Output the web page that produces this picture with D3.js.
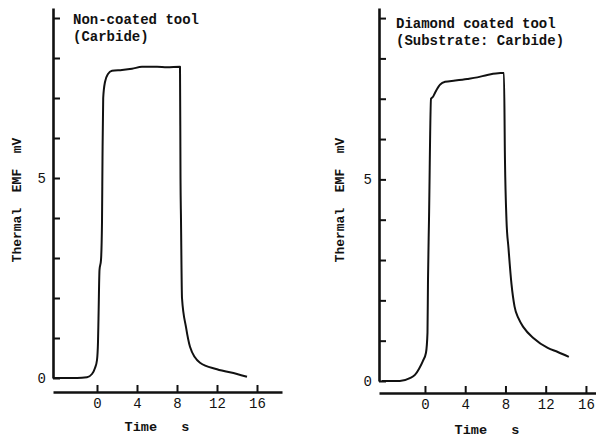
<!DOCTYPE html>
<html>
<head>
<meta charset="utf-8">
<script src="https://cdn.jsdelivr.net/npm/d3@7"></script>
<style>
  body { margin: 0; background: #fff; }
  text { font-family: "Liberation Mono", "DejaVu Sans Mono", monospace; fill: #111; }
</style>
</head>
<body>
<div id="chart"></div>
<script>
// time (s) and thermal EMF (mV)
const timeTicks = [0, 4, 8, 12, 16];
const emfTicks = [0, 1, 2, 3, 4, 5, 6, 7, 8, 9];
const emfLabels = [0, 5];

const nonCoated = [
  [-4.4, 0], [-2, 0], [-1, 0.02], [-0.5, 0.1], [-0.2, 0.25], [0, 0.45], [0.1, 0.9],
  [0.15, 1.5], [0.25, 2.7], [0.4, 2.95], [0.5, 3.9], [0.55, 5.5], [0.62, 7.0],
  [0.8, 7.4], [1.1, 7.6], [1.5, 7.68], [2.5, 7.7], [3.5, 7.73], [4.5, 7.78],
  [6, 7.78], [7, 7.77], [8.3, 7.78], [8.35, 5.0], [8.4, 3.95], [8.5, 2.0],
  [8.9, 1.27], [9.3, 0.78], [10.3, 0.38], [12, 0.22], [14, 0.1], [15, 0.03]
];

const diamondCoated = [
  [-4.3, 0], [-2.5, 0], [-1.5, 0.07], [-1, 0.15], [-0.6, 0.3], [-0.2, 0.5],
  [0.1, 0.7], [0.25, 1.2], [0.3, 2.5], [0.4, 4.0], [0.6, 7.0], [0.8, 7.05],
  [1.0, 7.15], [1.5, 7.35], [2, 7.42], [3, 7.45], [4.2, 7.49], [5.2, 7.53],
  [6.2, 7.59], [7.5, 7.64], [7.85, 7.64], [7.95, 5.5], [8.1, 4.0], [8.3, 3.3],
  [8.6, 2.4], [8.9, 1.85], [9.3, 1.55], [9.8, 1.33], [10.8, 1.06], [12.2, 0.82],
  [13.2, 0.72], [14.3, 0.6]
];

let width = 596, height = 440;
let svg = d3.select("#chart").append("svg").attr("width", width).attr("height", height);

function drawPanel(opt) {
    let x = d3.scaleLinear().domain(opt.xDomain).range(opt.xRange);
    let y = d3.scaleLinear().domain([0, 9.25]).range(opt.yRange);
    let g = svg.append("g");

    // y axis, ticks pointing inward
    let yAxis = d3.axisLeft(y).tickValues(emfTicks).tickSizeInner(-7).tickSizeOuter(0).tickPadding(7)
        .tickFormat(d => emfLabels.includes(d) ? d : "");
    let ya = g.append("g").attr("transform", "translate(" + opt.xRange[0] + ",0)").call(yAxis);

    // x axis, ticks pointing up
    let xAxis = d3.axisBottom(x).tickValues(timeTicks).tickSizeInner(-7).tickSizeOuter(0).tickPadding(6);
    let xa = g.append("g").attr("transform", "translate(0," + opt.axisY + ")").call(xAxis);

    [ya, xa].forEach(a => {
        a.select(".domain").attr("stroke", "#111").attr("stroke-width", 2.6);
        a.selectAll(".tick line").attr("stroke", "#111").attr("stroke-width", 2);
        a.selectAll(".tick text").attr("font-size", 14).attr("font-family", "Liberation Mono").attr("fill", "#111");
    });

    let line = d3.line().x(d => x(d[0])).y(d => y(d[1])).curve(d3.curveMonotoneX);
    g.append("path").datum(opt.data).attr("d", line)
        .attr("fill", "none").attr("stroke", "#111").attr("stroke-width", 2)
        .attr("stroke-linejoin", "round");

    g.append("text").attr("x", opt.xLabel[0]).attr("y", opt.xLabel[1])
        .attr("text-anchor", "middle").attr("font-size", 13.5).attr("font-weight", "bold")
        .style("white-space", "pre").text("Time   s");

    g.append("text").attr("transform", "translate(" + opt.yLabel[0] + "," + opt.yLabel[1] + ") rotate(-90)")
        .attr("text-anchor", "middle").attr("font-size", 13).attr("font-weight", "bold")
        .style("white-space", "pre").text("Thermal  EMF  mV");

    opt.title.forEach((t, i) => {
        g.append("text").attr("x", opt.titlePos[0]).attr("y", opt.titlePos[1] + i * 17)
            .attr("font-size", 14).attr("font-weight", "bold").text(t);
    });
}

drawPanel({
    xDomain: [-4.4, 18.5], xRange: [53, 282], yRange: [378, 8], axisY: 392,
    data: nonCoated, xLabel: [157, 431], yLabel: [21, 200],
    title: ["Non-coated tool", "(Carbide)"], titlePos: [73, 24]
});

drawPanel({
    xDomain: [-4.57, 17.0], xRange: [379, 596], yRange: [381, 8], axisY: 393,
    data: diamondCoated, xLabel: [487, 434], yLabel: [344, 200],
    title: ["Diamond coated tool", "(Substrate: Carbide)"], titlePos: [396, 28]
});
</script>
</body>
</html>
